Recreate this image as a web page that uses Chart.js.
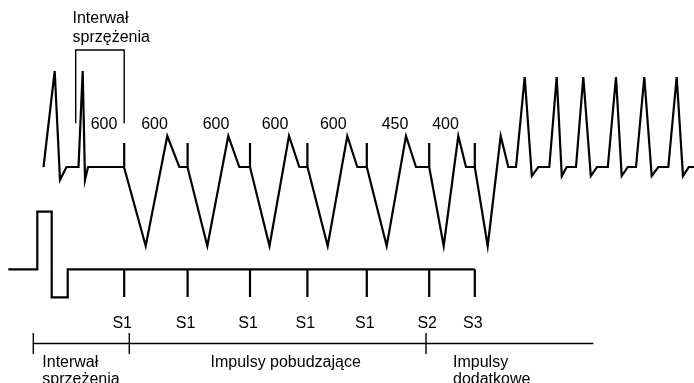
<!DOCTYPE html>
<html lang="pl">
  <head>
    <meta charset="utf-8" />
    <title>Interwał sprzężenia</title>
    <style>
      html, body { margin: 0; padding: 0; background: #fff; }
      canvas { display: block; }
    </style>
  </head>
  <body>
    <canvas id="myChart" width="694" height="383"></canvas>
    <script src="https://cdn.jsdelivr.net/npm/chart.js"></script>
    <script>
      // ECG trace: time (diagram units) and amplitude (baseline = 0)
      const ecgTime = [
        43.5, 54.7, 60, 66.5, 78.5, 82.7, 85, 88, 124,
        145.7, 167.3, 179.3, 187.5,
        207.3, 228.3, 239.3, 250,
        269.5, 289, 299.3, 307.5,
        327.7, 347.3, 357.3, 366.8,
        386.7, 406, 416, 429.2,
        443.7, 458.3, 466, 474.8,
        487.7, 500.7, 508.3, 516,
        524.7, 531.8, 538.3, 549.3,
        556.7, 561.8, 566.7, 576,
        583.3, 590.8, 597, 607.8,
        616, 621.7, 627.8, 636,
        644.3, 651.7, 658.3, 668.3,
        676.7, 683, 688.8, 694
      ];
      const ecgVolt = [
        0, 96, -13, 0, 0, 96, -13, 0, 0,
        -79, 31, 0, 0,
        -79, 31, 0, 0,
        -79, 31, 0, 0,
        -79, 31, 0, 0,
        -79, 31, 0, 0,
        -79, 31, 0, 0,
        -79, 31, 0, 0,
        90, -9, 0, 0,
        90, -9, 0, 0,
        90, -9, 0, 0,
        90, -9, 0, 0,
        90, -9, 0, 0,
        90, -9, 0, 0
      ];

      // stimuli
      const stimTimes = [124.2, 187.6, 250, 307.4, 366.8, 429.2, 474.8];
      const stimNames = ["S1", "S1", "S1", "S1", "S1", "S2", "S3"];

      // stimulator channel (pre-pulse then flat line)
      const pulseTime = [8.3, 37.3, 37.3, 51.7, 51.7, 67.7, 67.7, 474.8];
      const pulseVolt = [-102.3, -102.3, -44.7, -44.7, -130.3, -130.3, -102.3, -102.3];

      // interval labels (ms) and where they sit
      const intervalLabels = ["600", "600", "600", "600", "600", "450", "400"];
      const intervalTimes = [104, 154.5, 216, 275, 333.3, 395, 445.5];

      // bottom timeline
      const phaseTicks = [33.3, 129.3, 426];
      const phaseEnd = 593.3;
      const phaseNames = [["Interwał", "sprzężenia"], ["Impulsy pobudzające"], ["Impulsy", "dodatkowe"]];
      const phaseTextTimes = [42.3, 210.5, 453];

      const couplingBracket = [75.7, stimTimes[0]];
      const couplingLabel = ["Interwał", "sprzężenia"];

      const pts = (xs, ys) => xs.map((x, i) => ({ x: x, y: ys[i] }));

      const stimMarks = [];
      stimTimes.forEach((t) => {
        stimMarks.push({ x: t, y: 0 }, { x: t, y: 24 }, { x: t, y: null });
      });
      const stimTicks = [];
      stimTimes.forEach((t) => {
        stimTicks.push({ x: t, y: -102.3 }, { x: t, y: -130 }, { x: t, y: null });
      });
      const timeline = [{ x: phaseTicks[0], y: -176.5 }, { x: phaseEnd, y: -176.5 }, { x: phaseEnd, y: null }];
      phaseTicks.forEach((t) => {
        timeline.push({ x: t, y: -166 }, { x: t, y: -187 }, { x: t, y: null });
      });
      const bracket = [
        { x: couplingBracket[0], y: 43.7 },
        { x: couplingBracket[0], y: 117 },
        { x: couplingBracket[1], y: 117 },
        { x: couplingBracket[1], y: 43.7 },
      ];

      const line = (data, width) => ({
        data: data,
        showLine: true,
        borderColor: "#000",
        borderWidth: width,
        pointRadius: 0,
        tension: 0,
        spanGaps: false,
      });

      const textPlugin = {
        id: "diagramText",
        afterDatasetsDraw(chart) {
          const ctx = chart.ctx;
          const x = chart.scales.x;
          const y = chart.scales.y;
          ctx.save();
          ctx.fillStyle = "#000";
          ctx.font = '16px "Liberation Sans", Arial, sans-serif';

          // interval values
          ctx.textAlign = "center";
          ctx.textBaseline = "middle";
          intervalLabels.forEach((s, i) => {
            ctx.fillText(s, x.getPixelForValue(intervalTimes[i]), y.getPixelForValue(42.8));
          });
          // stimulus names
          stimNames.forEach((s, i) => {
            ctx.fillText(s, x.getPixelForValue(stimTimes[i]) - 2, y.getPixelForValue(-156.3));
          });

          // coupling interval label
          ctx.textAlign = "left";
          ctx.textBaseline = "alphabetic";
          couplingLabel.forEach((s, i) => {
            ctx.fillText(s, x.getPixelForValue(72.5), y.getPixelForValue(143.7 - 18.4 * i));
          });
          // phase names
          phaseNames.forEach((lines, k) => {
            lines.forEach((s, i) => {
              ctx.fillText(s, x.getPixelForValue(phaseTextTimes[k]), y.getPixelForValue(-199.5 - 17.5 * i));
            });
          });
          ctx.restore();
        },
      };

      new Chart(document.getElementById("myChart"), {
        type: "scatter",
        data: {
          datasets: [
            line(pts(ecgTime, ecgVolt), 2.2),
            line(stimMarks, 2.2),
            line(pts(pulseTime, pulseVolt), 2.2),
            line(stimTicks, 2.2),
            line(bracket, 1.4),
            line(timeline, 1.4),
          ],
        },
        plugins: [textPlugin],
        options: {
          responsive: false,
          animation: false,
          layout: { padding: 0 },
          plugins: { legend: { display: false }, tooltip: { enabled: false } },
          scales: {
            x: { type: "linear", min: 0, max: 694, display: false },
            y: { type: "linear", min: -216, max: 167, display: false },
          },
        },
      });
    </script>
  </body>
</html>
